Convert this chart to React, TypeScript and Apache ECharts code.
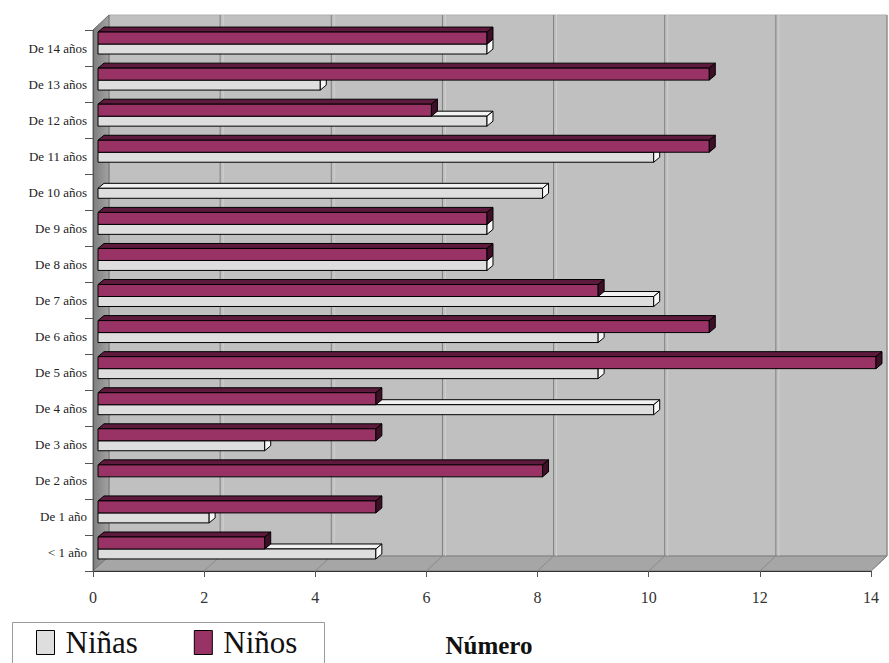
import React, { useEffect, useRef } from "react";
import * as echarts from "echarts";

// Age groups, bottom to top
const categories = [
  "< 1 año",
  "De 1 año",
  "De 2 años",
  "De 3 años",
  "De 4 años",
  "De 5 años",
  "De 6 años",
  "De 7 años",
  "De 8 años",
  "De 9 años",
  "De 10 años",
  "De 11 años",
  "De 12 años",
  "De 13 años",
  "De 14 años",
];
const ninas = [5, 2, 0, 3, 10, 9, 9, 10, 7, 7, 8, 10, 7, 4, 7];
const ninos = [3, 5, 8, 5, 5, 14, 11, 9, 7, 7, 0, 11, 6, 11, 7];

const xMin = 0;
const xMax = 14;
const xStep = 2;

const SERIF = "Liberation Serif";

// depth of the 3D walls and of each bar, in pixels
const WALL_DX = 16;
const WALL_DY = -15;
const BAR_DX = 6;
const BAR_DY = -5;
const BAR_SHIFT = 5;

type BarStyle = { front: string; top: string; side: string };
const NINAS_STYLE: BarStyle = { front: "#dedede", top: "#f2f2f2", side: "#f7f7f7" };
const NINOS_STYLE: BarStyle = { front: "#993366", top: "#5e1a3c", side: "#3e1027" };

function barRenderer(style: BarStyle, upper: boolean) {
  return (params: any, api: any) => {
    const v = api.value(0);
    const c = api.value(1);
    if (!v) return { type: "group", children: [] };
    const band = api.size([0, 1])[1];
    const k = band / 36.13;
    const [xv, yc] = api.coord([v, c]);
    const x0 = api.coord([0, c])[0] + BAR_SHIFT;
    const x1 = xv + BAR_SHIFT;
    const dx = BAR_DX * k;
    const dy = BAR_DY * k;
    const yt = upper ? yc - 16 * k : yc - 4 * k;
    const yb = upper ? yc - 4 * k : yc + 6 * k;
    const stroke = { stroke: "#000", lineWidth: 1 };
    return {
      type: "group",
      children: [
        {
          type: "polygon",
          shape: { points: [[x0, yt], [x0 + dx, yt + dy], [x1 + dx, yt + dy], [x1, yt]] },
          style: { fill: style.top, ...stroke },
        },
        {
          type: "rect",
          shape: { x: x0, y: yt, width: x1 - x0, height: yb - yt },
          style: { fill: style.front, ...stroke },
        },
        {
          type: "polygon",
          shape: { points: [[x1, yt], [x1 + dx, yt + dy], [x1 + dx, yb + dy], [x1, yb]] },
          style: { fill: style.side, ...stroke },
        },
      ],
    };
  };
}

// Walls, floor and gridlines of the 3D box
function frameRenderer(params: any, api: any) {
  const cs = params.coordSys;
  const left = cs.x;
  const top = cs.y;
  const right = cs.x + cs.width;
  const bottom = cs.y + cs.height;
  const children: any[] = [
    {
      type: "rect",
      shape: { x: left + WALL_DX, y: top + WALL_DY, width: right - left, height: bottom - top },
      style: { fill: "#c0c0c0", stroke: "#b0b0b0", lineWidth: 1 },
    },
    {
      type: "polygon",
      shape: {
        points: [
          [left, top],
          [left + WALL_DX, top + WALL_DY],
          [left + WALL_DX, bottom + WALL_DY],
          [left, bottom],
        ],
      },
      style: {
        fill: new echarts.graphic.LinearGradient(0, 0, 1, 0, [
          { offset: 0, color: "#7c7c7c" },
          { offset: 0.45, color: "#8e8e8e" },
          { offset: 1, color: "#a2a2a2" },
        ]),
        stroke: "#6a6a6a",
        lineWidth: 1,
      },
    },
    {
      type: "polygon",
      shape: {
        points: [
          [left, bottom],
          [left + WALL_DX, bottom + WALL_DY],
          [right + WALL_DX, bottom + WALL_DY],
          [right, bottom],
        ],
      },
      style: { fill: "#a6a6a6", stroke: "#7a7a7a", lineWidth: 1 },
    },
  ];
  for (let v = xMin + xStep; v <= xMax; v += xStep) {
    const x = api.coord([v, 0])[0];
    children.push({
      type: "line",
      shape: { x1: x + WALL_DX, y1: top + WALL_DY, x2: x + WALL_DX, y2: bottom + WALL_DY },
      style: { stroke: "#7f7f7f", lineWidth: 1 },
    });
    children.push({
      type: "line",
      shape: { x1: x + WALL_DX + 3, y1: top + WALL_DY, x2: x + WALL_DX + 3, y2: bottom + WALL_DY },
      style: { stroke: "#cfcfcf", lineWidth: 1 },
    });
    children.push({
      type: "line",
      shape: { x1: x, y1: bottom, x2: x + WALL_DX, y2: bottom + WALL_DY },
      style: { stroke: "#8a8a8a", lineWidth: 1 },
    });
  }
  return { type: "group", children };
}

export default function App() {
  const ref = useRef<HTMLDivElement>(null);

  useEffect(() => {
    if (!ref.current) return;
    const chart = echarts.init(ref.current, undefined, { renderer: "svg" });
    chart.setOption({
      animation: false,
      textStyle: { fontFamily: SERIF },
      grid: { left: 93, right: 18, top: 30, bottom: 91, containLabel: false },
      xAxis: {
        type: "value",
        min: xMin,
        max: xMax,
        interval: xStep,
        z: 5,
        name: "Número",
        nameLocation: "middle",
        nameGap: 62,
        nameTextStyle: {
          fontFamily: SERIF,
          fontSize: 25,
          fontWeight: "bold",
          color: "#111",
          padding: [0, 0, 0, 14],
        },
        axisLine: { show: true, lineStyle: { color: "#333", width: 1 } },
        axisTick: { show: true, length: 6, lineStyle: { color: "#555" } },
        axisLabel: { margin: 18, fontFamily: SERIF, fontSize: 16, color: "#333" },
        splitLine: { show: false },
      },
      yAxis: {
        type: "category",
        data: categories,
        z: 5,
        axisLine: { show: true, lineStyle: { color: "#555", width: 1 } },
        axisTick: { show: true, length: 8, lineStyle: { color: "#555" } },
        axisLabel: { margin: 6, fontFamily: SERIF, fontSize: 13, color: "#222" },
        splitLine: { show: false },
      },
      legend: {
        left: 36,
        top: 627,
        padding: 0,
        itemWidth: 18,
        itemHeight: 24,
        itemGap: 56,
        selectedMode: false,
        icon: "rect",
        textStyle: { fontFamily: SERIF, fontSize: 31, color: "#111", padding: [0, 0, 0, 6] },
        data: [
          { name: "Niñas", itemStyle: { color: NINAS_STYLE.front, borderColor: "#000", borderWidth: 1 } },
          { name: "Niños", itemStyle: { color: NINOS_STYLE.front, borderColor: "#000", borderWidth: 1 } },
        ],
      },
      graphic: [
        {
          type: "rect",
          left: 10,
          top: 620,
          shape: { width: 312, height: 60 },
          style: { fill: "none", stroke: "#9a9a9a", lineWidth: 1 },
          silent: true,
        },
      ],
      series: [
        {
          type: "custom",
          name: "frame",
          z: 1,
          clip: false,
          silent: true,
          renderItem: frameRenderer,
          data: [[0, 0]],
          encode: { x: 0, y: 1 },
        },
        {
          type: "custom",
          name: "Niñas",
          z: 2,
          clip: false,
          itemStyle: { color: NINAS_STYLE.front },
          renderItem: barRenderer(NINAS_STYLE, false),
          data: ninas.map((v, i) => [v, i]),
          encode: { x: 0, y: 1 },
        },
        {
          type: "custom",
          name: "Niños",
          z: 3,
          clip: false,
          itemStyle: { color: NINOS_STYLE.front },
          renderItem: barRenderer(NINOS_STYLE, true),
          data: ninos.map((v, i) => [v, i]),
          encode: { x: 0, y: 1 },
        },
      ],
    });
    return () => chart.dispose();
  }, []);

  return (
    <div
      ref={ref}
      style={{ position: "fixed", left: 0, top: 0, width: 889, height: 663, background: "#fff" }}
    />
  );
}
